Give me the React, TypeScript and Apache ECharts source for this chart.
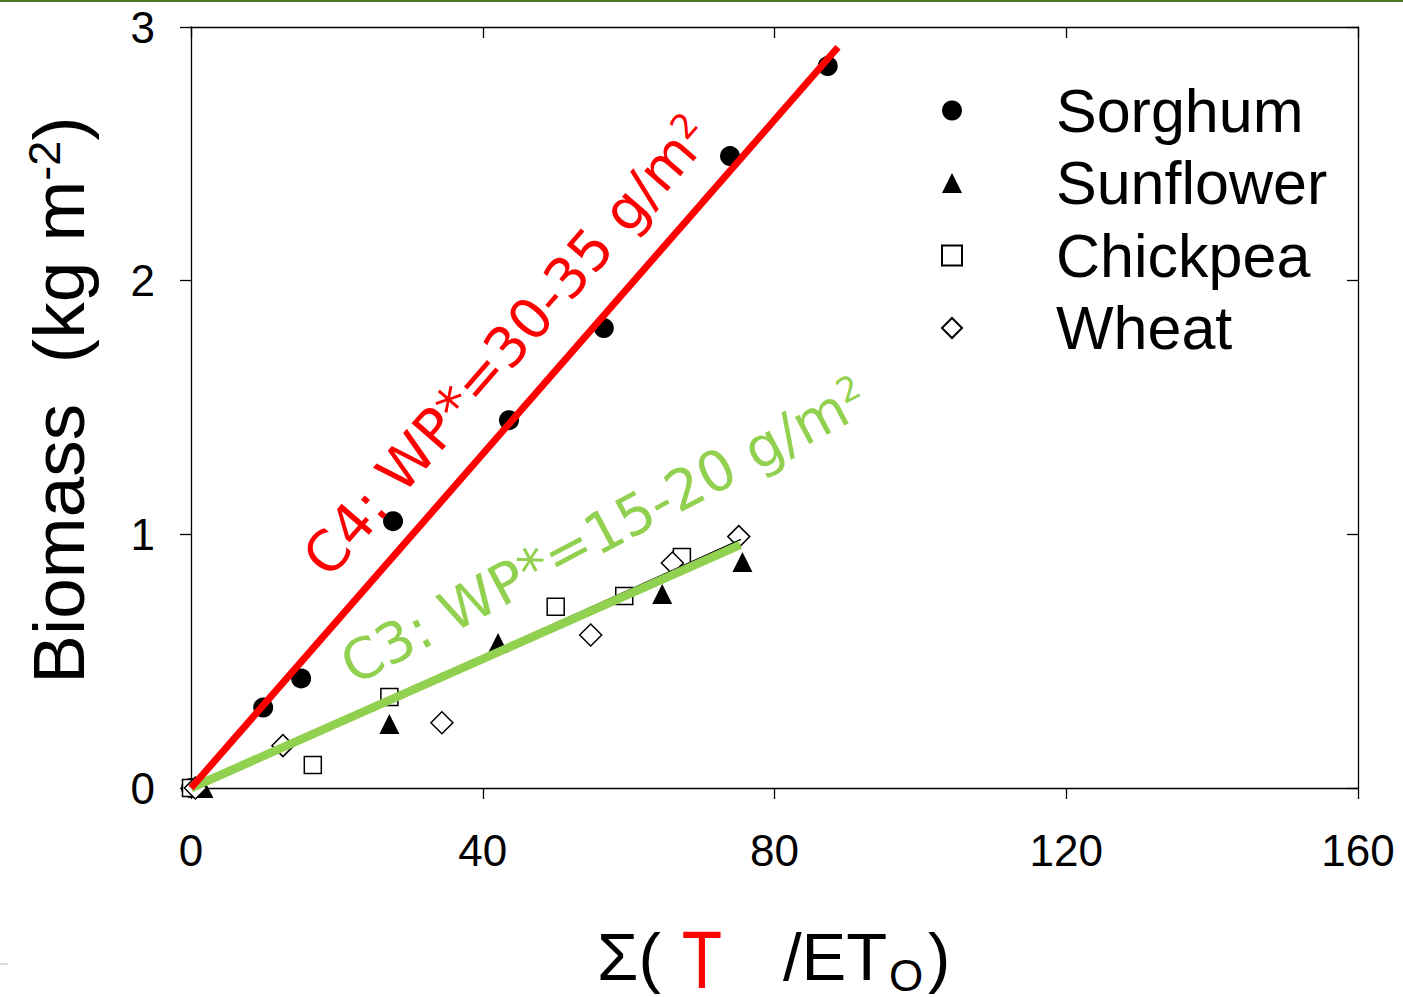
import React, { useEffect, useRef } from "react";
import * as echarts from "echarts";

// ---- data ----
const sorghum: number[][] = [[0, 0], [9.9, 0.317], [15.1, 0.432], [27.7, 1.052], [43.6, 1.45], [56.6, 1.813], [73.9, 2.491], [87.3, 2.846]];
const sunflower: number[][] = [[1.7, 0], [27.2, 0.252], [42.1, 0.572], [64.6, 0.765], [75.6, 0.891]];
const chickpea: number[][] = [[0, 0], [16.7, 0.091], [27.2, 0.359], [50.0, 0.715], [59.4, 0.757], [67.3, 0.911]];
const wheat: number[][] = [[0.6, 0], [12.6, 0.167], [34.4, 0.257], [54.8, 0.603], [66.0, 0.887], [75.1, 0.991]];
const c4Line: number[][] = [[0, 0], [88.7, 2.92]];
const c3Line: number[][] = [[0, 0], [75.3, 0.958]];
const c3Fit: number[][] = [[0, 0], [75.4, 0.98]];
const legendNames = ["Sorghum", "Sunflower", "Chickpea", "Wheat"];
const xRange = { min: 0, max: 160, interval: 40 };
const yRange = { min: 0, max: 3, interval: 1 };

const FONT = "'Liberation Sans', Arial, sans-serif";
const ANN_FONT = "'DejaVu Sans', sans-serif";

function buildOption(): any {
  const axisLine = { show: true, onZero: false, lineStyle: { color: "#000", width: 1.3 } };
  const tickOut = { show: true, inside: false, length: 11, lineStyle: { color: "#000", width: 1.3 } };
  const tickIn = { show: true, inside: true, length: 11, lineStyle: { color: "#000", width: 1.3 } };
  const hollow = { color: "#fff", borderColor: "#000", borderWidth: 1.5, opacity: 1 };
  const solid = { color: "#000", opacity: 1 };
  return {
    animation: false,
    backgroundColor: "#fff",
    grid: { left: 191, right: 45, top: 27, bottom: 209, containLabel: false },
    xAxis: [
      {
        type: "value", ...xRange, position: "bottom",
        axisLine, axisTick: tickOut, splitLine: { show: false },
        axisLabel: { fontSize: 44, color: "#000", fontFamily: FONT, margin: 40 },
      },
      {
        type: "value", ...xRange, position: "top",
        axisLine, axisTick: tickIn, splitLine: { show: false }, axisLabel: { show: false },
      },
    ],
    yAxis: [
      {
        type: "value", ...yRange, position: "left",
        axisLine, axisTick: tickOut, splitLine: { show: false },
        axisLabel: { fontSize: 44, color: "#000", fontFamily: FONT, margin: 36 },
      },
      {
        type: "value", ...yRange, position: "right",
        axisLine, axisTick: tickIn, splitLine: { show: false }, axisLabel: { show: false },
      },
    ],
    legend: {
      data: legendNames,
      orient: "vertical",
      left: 936,
      top: 75,
      itemWidth: 20,
      itemHeight: 20,
      itemGap: 11.5,
      selectedMode: false,
      textStyle: { fontSize: 61, lineHeight: 60, fontFamily: FONT, color: "#000", padding: [0, 0, 0, 89] },
    },
    series: [
      { name: "Sorghum", type: "scatter", data: sorghum, symbol: "circle", symbolSize: 20, itemStyle: solid, z: 2 },
      { name: "Sunflower", type: "scatter", data: sunflower, symbol: "triangle", symbolSize: 20, itemStyle: solid, z: 2 },
      { name: "Chickpea", type: "scatter", data: chickpea, symbol: "rect", symbolSize: 17, itemStyle: hollow, z: 2 },
      { name: "Wheat", type: "scatter", data: wheat, symbol: "diamond", symbolSize: 22, itemStyle: hollow, z: 2 },
      { name: "fit", type: "line", data: c3Fit, symbol: "none", lineStyle: { color: "#000", width: 1.3 }, z: 3 },
      { name: "C3", type: "line", data: c3Line, symbol: "none", lineStyle: { color: "#92D050", width: 8.5 }, z: 4 },
      { name: "C4", type: "line", data: c4Line, symbol: "none", lineStyle: { color: "#FF0000", width: 7 }, z: 5 },
    ],
    graphic: [
      { type: "rect", shape: { x: 0, y: 0, width: 1403, height: 2 }, style: { fill: "#4E7A27" } },
      { type: "rect", shape: { x: 0, y: 963, width: 8, height: 2 }, style: { fill: "#dddddd" } },
      {
        type: "text", x: 507, y: 346, rotation: (49 * Math.PI) / 180, z: 10,
        style: {
          text: "C4: WP*=30-35 g/m{sup|2}", fill: "#FF0000", fontSize: 56, fontFamily: ANN_FONT,
          align: "center", verticalAlign: "middle",
          rich: { sup: { fontSize: 34, fill: "#FF0000", fontFamily: ANN_FONT, verticalAlign: "top" } },
        },
      },
      {
        type: "text", x: 604, y: 531, rotation: (28 * Math.PI) / 180, z: 10,
        style: {
          text: "C3: WP*=15-20 g/m{sup|2}", fill: "#92D050", fontSize: 56, fontFamily: ANN_FONT,
          align: "center", verticalAlign: "middle",
          rich: { sup: { fontSize: 34, fill: "#92D050", fontFamily: ANN_FONT, verticalAlign: "top" } },
        },
      },
      {
        type: "text", x: 58, y: 400, rotation: Math.PI / 2, z: 10,
        style: {
          text: "Biomass  (kg m{sup|-2})", fill: "#000", fontSize: 73, fontFamily: FONT,
          align: "center", verticalAlign: "middle",
          rich: { sup: { fontSize: 45, fill: "#000", fontFamily: FONT, verticalAlign: "top" } },
        },
      },
      { type: "text", x: 597, y: 956, z: 10, style: { text: "Σ(", fill: "#000", fontSize: 67, fontFamily: FONT, align: "left", verticalAlign: "middle" } },
      { type: "text", x: 702, y: 960, scaleY: 1.24, z: 10, style: { text: "T", fill: "#FF0000", fontSize: 66, lineHeight: 56, fontFamily: FONT, align: "center", verticalAlign: "middle" } },
      { type: "text", x: 783, y: 956, z: 10, style: { text: "/ET", fill: "#000", fontSize: 67, fontFamily: FONT, align: "left", verticalAlign: "middle" } },
      { type: "text", x: 889, y: 975, z: 10, style: { text: "O", fill: "#000", fontSize: 44, lineHeight: 38, fontFamily: FONT, align: "left", verticalAlign: "middle" } },
      { type: "text", x: 928, y: 956, z: 10, style: { text: ")", fill: "#000", fontSize: 67, fontFamily: FONT, align: "left", verticalAlign: "middle" } },
    ],
  };
}

export default function App() {
  const ref = useRef<HTMLDivElement>(null);
  useEffect(() => {
    const el = ref.current;
    if (!el) return;
    const chart = echarts.init(el, null, { renderer: "svg" });
    chart.setOption(buildOption());
    return () => chart.dispose();
  }, []);
  return (
    <div
      ref={ref}
      style={{ position: "fixed", left: 0, top: 0, width: 1403, height: 997, background: "#fff" }}
    />
  );
}
